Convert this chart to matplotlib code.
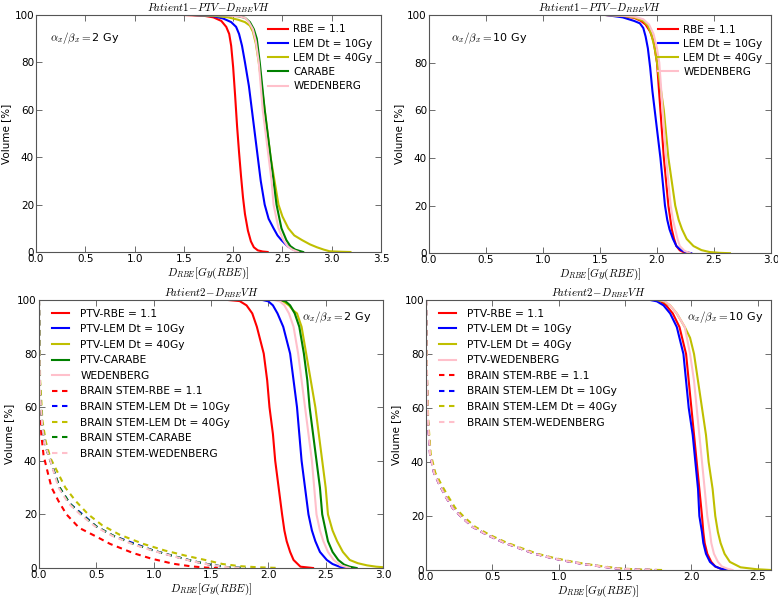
import matplotlib
matplotlib.use("Agg")
import matplotlib.pyplot as plt

# ---------------- data ----------------
# Patient 1, alpha/beta = 2 Gy
p1a2_rbe_d = [1.50,1.70,1.80,1.88,1.93,1.96,1.98,2.00,2.02,2.04,2.06,2.08,2.10,2.12,2.15,2.18,2.21,2.25,2.30,2.35]
p1a2_rbe_v = [100,99.7,99,97.5,95,92,87,78,66,53,42,32,23,16,9,4.5,2,0.7,0.2,0]
p1a2_lem10_d = [1.60,1.80,1.90,1.98,2.03,2.06,2.09,2.12,2.16,2.19,2.22,2.25,2.28,2.32,2.36,2.41,2.45,2.49,2.55,2.61,2.68]
p1a2_lem10_v = [100,99.5,98.5,97,95,92,87,80,70,60,50,40,30,20,14,10,7,5,2.5,1,0]
p1a2_lem40_d = [1.60,1.80,1.95,2.05,2.12,2.17,2.20,2.23,2.26,2.29,2.32,2.35,2.38,2.42,2.46,2.50,2.56,2.62,2.70,2.78,2.85,2.92,2.98,3.10,3.19]
p1a2_lem40_v = [100,99.7,99,98,97,95.5,93,88,80,70,60,50,40,30,20,15,10,7,5,3.2,2,1,0.3,0.1,0]
p1a2_carabe_d = [1.60,1.90,2.05,2.12,2.17,2.21,2.24,2.27,2.30,2.32,2.35,2.38,2.41,2.44,2.47,2.49,2.54,2.58,2.63,2.71]
p1a2_carabe_v = [100,99.8,99.5,98.8,97,94,90,80,68,60,50,40,30,20,14,10,5,2.5,1,0]
p1a2_wed_d = [1.60,1.90,2.05,2.12,2.16,2.20,2.23,2.26,2.28,2.30,2.33,2.36,2.39,2.41,2.44,2.46,2.51,2.55,2.60,2.66]
p1a2_wed_v = [100,99.8,99.5,98.8,97,94,89,80,70,60,50,40,30,20,14,10,5,2.5,1,0]

# Patient 1, alpha/beta = 10 Gy
p1a10_rbe_d = [1.55,1.70,1.80,1.86,1.90,1.94,1.97,2.00,2.03,2.06,2.08,2.10,2.13,2.15,2.17,2.20,2.23,2.29]
p1a10_rbe_v = [100,99.5,98.8,97.5,96,93,89,80,60,40,30,20,10,6,3,1.2,0.5,0]
p1a10_lem10_d = [1.55,1.70,1.80,1.85,1.88,1.90,1.92,1.94,1.96,1.98,2.01,2.03,2.05,2.07,2.09,2.11,2.14,2.17,2.21,2.25,2.30]
p1a10_lem10_v = [100,99,97.5,96.5,94.5,91,86,78,68,60,48,40,30,20,14,10,6,3,1.3,0.5,0]
p1a10_lem40_d = [1.55,1.70,1.80,1.88,1.92,1.95,1.98,2.00,2.03,2.06,2.08,2.10,2.13,2.16,2.19,2.22,2.26,2.32,2.39,2.46,2.55,2.64]
p1a10_lem40_v = [100,99.6,99,97.5,95.5,92,86,80,70,60,50,40,30,20,14,10,6,3,1.3,0.5,0.15,0]
p1a10_wed_d = [1.55,1.70,1.80,1.88,1.93,1.97,2.00,2.02,2.05,2.08,2.10,2.12,2.14,2.16,2.18,2.20,2.24,2.29]
p1a10_wed_v = [100,99.7,99.3,98.2,96,92,86,80,60,40,30,20,14,10,6,3,1,0]

# Patient 2, alpha/beta = 2 Gy (PTV)
p2a2_rbe_d = [1.65,1.75,1.81,1.86,1.90,1.93,1.96,1.99,2.01,2.04,2.06,2.09,2.12,2.14,2.16,2.19,2.22,2.28,2.39]
p2a2_rbe_v = [100,99.6,98,95,90,85,80,70,60,50,40,30,20,14,10,6,3,0.5,0]
p2a2_lem10_d = [1.95,2.00,2.04,2.08,2.13,2.16,2.19,2.22,2.25,2.27,2.29,2.32,2.35,2.38,2.41,2.45,2.51,2.56,2.62,2.68]
p2a2_lem10_v = [100,99.5,98,95,90,85,80,70,60,50,40,30,20,14,10,6,3,1.5,0.5,0]
p2a2_lem40_d = [2.08,2.13,2.18,2.22,2.25,2.29,2.33,2.37,2.41,2.44,2.47,2.50,2.52,2.56,2.60,2.65,2.71,2.78,2.86,2.94,3.00]
p2a2_lem40_v = [100,99.5,98,96,95,90,80,70,60,50,40,30,20,14,10,6,3,1.8,1,0.5,0.3]
p2a2_carabe_d = [2.10,2.15,2.19,2.23,2.27,2.31,2.34,2.36,2.39,2.42,2.45,2.47,2.50,2.52,2.56,2.61,2.66,2.71,2.77]
p2a2_carabe_v = [100,99.5,98,95,90,80,70,60,50,40,30,20,14,10,6,3,1.3,0.5,0]
p2a2_wed_d = [2.05,2.10,2.14,2.18,2.22,2.26,2.29,2.32,2.35,2.38,2.40,2.42,2.45,2.48,2.52,2.57,2.63,2.71]
p2a2_wed_v = [100,99.5,98,95,90,80,70,60,50,40,30,20,14,10,6,3,1,0]
# Patient 2, alpha/beta = 2 Gy (brain stem)
p2a2_bs_rbe_d = [0,0.004,0.01,0.02,0.04,0.08,0.11,0.17,0.24,0.35,0.51,0.62,0.82,0.98,1.17,1.33,1.46,1.56]
p2a2_bs_rbe_v = [100,75,60,50,42,35,30,25,20,15,11.5,9,5.6,3.5,1.6,0.6,0.15,0]
p2a2_bs_lem10_d = [0,0.005,0.01,0.03,0.06,0.10,0.18,0.27,0.38,0.50,0.65,0.84,1.00,1.17,1.35,1.50,1.64,1.80]
p2a2_bs_lem10_v = [100,80,65,52,45,40,30,24,20,15.5,12,9,6.5,4.5,2.5,1.2,0.3,0]
p2a2_bs_lem40_d = [0,0.005,0.01,0.03,0.06,0.10,0.23,0.32,0.43,0.55,0.70,0.91,1.10,1.29,1.45,1.60,1.75,1.90,2.10]
p2a2_bs_lem40_v = [100,85,70,55,47,41,30,25,20,16,12.5,9,6.5,4.5,3,1.5,0.7,0.3,0]
p2a2_bs_carabe_d = [0,0.005,0.01,0.03,0.06,0.10,0.18,0.27,0.37,0.50,0.65,0.82,1.00,1.17,1.35,1.50,1.65,1.80]
p2a2_bs_carabe_v = [100,80,65,52,45,40,30,24,20,15.5,12,9,6.5,4.5,2.5,1.2,0.3,0]
p2a2_bs_wed_d = [0,0.005,0.01,0.03,0.06,0.10,0.17,0.26,0.36,0.49,0.64,0.81,0.99,1.16,1.34,1.49,1.64,1.78]
p2a2_bs_wed_v = [100,80,65,52,45,40,30,24,20,15.5,12,9,6.5,4.5,2.5,1.2,0.3,0]

# Patient 2, alpha/beta = 10 Gy (PTV)
p2a10_rbe_d = [1.72,1.77,1.81,1.86,1.91,1.96,1.98,2.00,2.02,2.04,2.06,2.08,2.09,2.10,2.12,2.15,2.18,2.22,2.27]
p2a10_rbe_v = [100,99.5,98,95,90,80,70,60,50,40,30,20,14,10,6,3,1.3,0.5,0]
p2a10_lem10_d = [1.69,1.74,1.79,1.84,1.89,1.94,1.96,1.98,2.01,2.03,2.05,2.06,2.08,2.09,2.11,2.14,2.18,2.22,2.27]
p2a10_lem10_v = [100,99.5,98,95,90,80,70,60,50,40,30,20,14,10,6,3,1.3,0.5,0]
p2a10_lem40_d = [1.74,1.79,1.84,1.89,1.95,1.99,2.02,2.05,2.08,2.11,2.13,2.16,2.18,2.20,2.22,2.25,2.29,2.37,2.49,2.60]
p2a10_lem40_v = [100,99.5,98,95,90,86,80,70,60,50,40,30,20,14,10,6,3,1,0.3,0]
p2a10_wed_d = [1.76,1.80,1.84,1.89,1.95,1.99,2.02,2.04,2.06,2.08,2.10,2.12,2.14,2.15,2.17,2.20,2.23,2.27,2.31]
p2a10_wed_v = [100,99.5,98,95,90,80,70,60,50,40,30,20,14,10,6,3,1.3,0.5,0]
# Patient 2, alpha/beta = 10 Gy (brain stem)
p2a10_bs_rbe_d = [0,0.003,0.008,0.015,0.03,0.06,0.10,0.15,0.20,0.27,0.35,0.46,0.58,0.70,0.82,0.95,1.08,1.20,1.32,1.43,1.55,1.65,1.74]
p2a10_bs_rbe_v = [100,85,68,55,43,36,31.7,27,23,19.5,16,13,10.3,8.1,6,4.4,3.1,2.1,1.3,0.6,0.25,0.08,0]
p2a10_bs_lem10_d = [0,0.003,0.008,0.015,0.03,0.06,0.10,0.15,0.20,0.27,0.35,0.46,0.58,0.70,0.82,0.95,1.08,1.20,1.32,1.43,1.55,1.65,1.74]
p2a10_bs_lem10_v = [100,85,68,55,43,36,31.7,27,23,19.5,16,13,10.3,8.1,6,4.4,3.1,2.1,1.3,0.6,0.25,0.08,0]
p2a10_bs_lem40_d = [0,0.003,0.009,0.017,0.035,0.07,0.115,0.17,0.22,0.29,0.37,0.48,0.60,0.72,0.84,0.97,1.10,1.22,1.34,1.46,1.58,1.68,1.78]
p2a10_bs_lem40_v = [100,85,68,55,43,36,31.7,27,23,19.5,16,13,10.3,8.1,6,4.4,3.1,2.1,1.3,0.6,0.25,0.08,0]
p2a10_bs_wed_d = [0,0.003,0.008,0.015,0.03,0.06,0.10,0.15,0.20,0.27,0.35,0.46,0.58,0.70,0.82,0.95,1.08,1.20,1.32,1.43,1.55,1.65,1.74]
p2a10_bs_wed_v = [100,85,68,55,43,36,31.7,27,23,19.5,16,13,10.3,8.1,6,4.4,3.1,2.1,1.3,0.6,0.25,0.08,0]

xticks_p1a2 = [0.0,0.5,1.0,1.5,2.0,2.5,3.0,3.5]
xticks_p1a10 = [0.0,0.5,1.0,1.5,2.0,2.5,3.0]
xticks_p2a2 = [0.0,0.5,1.0,1.5,2.0,2.5,3.0]
xticks_p2a10 = [0.0,0.5,1.0,1.5,2.0,2.5]
yticks = [0,20,40,60,80,100]

# ---------------- style ----------------
plt.rcParams['mathtext.fontset'] = 'cm'
plt.rcParams['font.family'] = 'DejaVu Sans'
plt.rcParams['xtick.direction'] = 'in'
plt.rcParams['ytick.direction'] = 'in'
plt.rcParams['xtick.top'] = True
plt.rcParams['ytick.right'] = True

RED = (1, 0, 0)
BLUE = (0, 0, 1)
YEL = (0.75, 0.75, 0)
GRN = (0, 0.5, 0)
PINK = '#ffc0cb'
LW = 1.5
DASH = (0, (2.6, 2.2))

fig = plt.figure(figsize=(7.78, 6.0), dpi=100)
ax1 = fig.add_axes([0.0463, 0.580, 0.4434, 0.395])
ax2 = fig.add_axes([0.5514, 0.578, 0.4396, 0.397])
ax3 = fig.add_axes([0.0501, 0.0533, 0.4422, 0.4467])
ax4 = fig.add_axes([0.5476, 0.0500, 0.4434, 0.4500])

FS = 7.5

def style(ax, xmax, xticks, title, ann, ann_xy):
    ax.set_xlim(0, xmax)
    ax.set_ylim(0, 100)
    ax.set_xticks(xticks)
    ax.set_xticklabels(['%.1f' % t for t in xticks])
    ax.set_yticks(yticks)
    ax.tick_params(labelsize=FS, length=4, width=0.6, color='#555555', pad=1.5)
    for s in ax.spines.values():
        s.set_color('#555555')
        s.set_linewidth(0.8)
    ax.set_xlabel(r'$D_{RBE}[Gy(RBE)]$', fontsize=8, labelpad=1)
    ax.set_ylabel('Volume [%]', fontsize=FS, labelpad=2)
    ax.set_title(title, fontsize=7.8, pad=0.2)
    ax.text(ann_xy[0], ann_xy[1], ann, transform=ax.transAxes, fontsize=8,
            ha='left', va='center')

LEG_TOP = dict(loc='upper right', frameon=False, fontsize=FS, handlelength=1.9,
               handletextpad=0.5, labelspacing=0.4, borderaxespad=0.0,
               borderpad=0.0, bbox_to_anchor=(0.975, 0.96))
LEG_BOT = dict(loc='upper left', frameon=False, fontsize=7.7, handlelength=1.55,
               handletextpad=1.1, labelspacing=0.52, borderaxespad=0.0,
               borderpad=0.0, bbox_to_anchor=(0.038, 0.968))

# Panel 1
ax1.plot(p1a2_rbe_d, p1a2_rbe_v, color=RED, lw=LW, label='RBE = 1.1')
ax1.plot(p1a2_lem10_d, p1a2_lem10_v, color=BLUE, lw=LW, label='LEM Dt = 10Gy')
ax1.plot(p1a2_lem40_d, p1a2_lem40_v, color=YEL, lw=LW, label='LEM Dt = 40Gy')
ax1.plot(p1a2_carabe_d, p1a2_carabe_v, color=GRN, lw=LW, label='CARABE')
ax1.plot(p1a2_wed_d, p1a2_wed_v, color=PINK, lw=LW, label='WEDENBERG')
style(ax1, 3.5, xticks_p1a2, r'$Patient1\!-\!PTV\!-\!D_{RBE}VH$',
      r'$\alpha_x/\beta_x=$2 Gy', (0.04, 0.905))
ax1.legend(**LEG_TOP)

# Panel 2
ax2.plot(p1a10_rbe_d, p1a10_rbe_v, color=RED, lw=LW, label='RBE = 1.1')
ax2.plot(p1a10_lem10_d, p1a10_lem10_v, color=BLUE, lw=LW, label='LEM Dt = 10Gy')
ax2.plot(p1a10_lem40_d, p1a10_lem40_v, color=YEL, lw=LW, label='LEM Dt = 40Gy')
ax2.plot(p1a10_wed_d, p1a10_wed_v, color=PINK, lw=LW, label='WEDENBERG')
style(ax2, 3.0, xticks_p1a10, r'$Patient1\!-\!PTV\!-\!D_{RBE}VH$',
      r'$\alpha_x/\beta_x=$10 Gy', (0.065, 0.905))
ax2.legend(**LEG_TOP)

# Panel 3
ax3.plot(p2a2_rbe_d, p2a2_rbe_v, color=RED, lw=LW, label='PTV-RBE = 1.1')
ax3.plot(p2a2_lem10_d, p2a2_lem10_v, color=BLUE, lw=LW, label='PTV-LEM Dt = 10Gy')
ax3.plot(p2a2_lem40_d, p2a2_lem40_v, color=YEL, lw=LW, label='PTV-LEM Dt = 40Gy')
ax3.plot(p2a2_carabe_d, p2a2_carabe_v, color=GRN, lw=LW, label='PTV-CARABE')
ax3.plot(p2a2_wed_d, p2a2_wed_v, color=PINK, lw=LW, label='WEDENBERG')
ax3.plot(p2a2_bs_rbe_d, p2a2_bs_rbe_v, color=RED, lw=LW, ls=DASH, label='BRAIN STEM-RBE = 1.1')
ax3.plot(p2a2_bs_lem10_d, p2a2_bs_lem10_v, color=BLUE, lw=LW, ls=DASH, label='BRAIN STEM-LEM Dt = 10Gy')
ax3.plot(p2a2_bs_lem40_d, p2a2_bs_lem40_v, color=YEL, lw=LW, ls=DASH, label='BRAIN STEM-LEM Dt = 40Gy')
ax3.plot(p2a2_bs_carabe_d, p2a2_bs_carabe_v, color=GRN, lw=LW, ls=DASH, label='BRAIN STEM-CARABE')
ax3.plot(p2a2_bs_wed_d, p2a2_bs_wed_v, color=PINK, lw=LW, ls=DASH, label='BRAIN STEM-WEDENBERG')
style(ax3, 3.0, xticks_p2a2, r'$Patient2\!-\!D_{RBE}VH$',
      r'$\alpha_x/\beta_x=$2 Gy', (0.765, 0.937))
ax3.legend(**LEG_BOT)

# Panel 4
ax4.plot(p2a10_rbe_d, p2a10_rbe_v, color=RED, lw=LW, label='PTV-RBE = 1.1')
ax4.plot(p2a10_lem10_d, p2a10_lem10_v, color=BLUE, lw=LW, label='PTV-LEM Dt = 10Gy')
ax4.plot(p2a10_lem40_d, p2a10_lem40_v, color=YEL, lw=LW, label='PTV-LEM Dt = 40Gy')
ax4.plot(p2a10_wed_d, p2a10_wed_v, color=PINK, lw=LW, label='PTV-WEDENBERG')
ax4.plot(p2a10_bs_rbe_d, p2a10_bs_rbe_v, color=RED, lw=LW, ls=DASH, label='BRAIN STEM-RBE = 1.1')
ax4.plot(p2a10_bs_lem10_d, p2a10_bs_lem10_v, color=BLUE, lw=LW, ls=DASH, label='BRAIN STEM-LEM Dt = 10Gy')
ax4.plot(p2a10_bs_lem40_d, p2a10_bs_lem40_v, color=YEL, lw=LW, ls=DASH, label='BRAIN STEM-LEM Dt = 40Gy')
ax4.plot(p2a10_bs_wed_d, p2a10_bs_wed_v, color=PINK, lw=LW, ls=DASH, label='BRAIN STEM-WEDENBERG')
style(ax4, 2.6, xticks_p2a10, r'$Patient2\!-\!D_{RBE}VH$',
      r'$\alpha_x/\beta_x=$10 Gy', (0.757, 0.937))
ax4.legend(**LEG_BOT)

fig.savefig('out.png', dpi=100, facecolor='white')
